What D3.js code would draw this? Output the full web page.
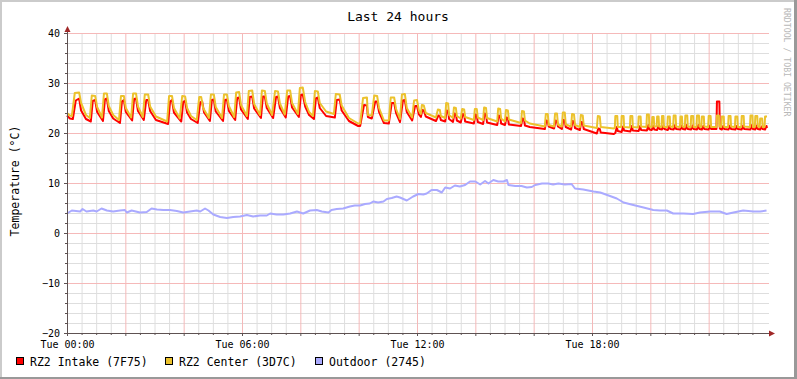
<!DOCTYPE html>
<html><head><meta charset="utf-8">
<script src="https://cdn.jsdelivr.net/npm/d3@7"></script>
<style>html,body{margin:0;padding:0;background:#fff}svg{display:block}</style>
</head><body><svg id="c" width="797" height="379"></svg>
<script>
// ---- DATA (minutes since Tue 00:00, °C) ----
const title = "Last 24 hours";
const yLabel = "Temperature (°C)";
const watermark = "RRDTOOL / TOBI OETIKER";
const seriesNames = ["RZ2 Intake (7F75)", "RZ2 Center (3D7C)", "Outdoor (2745)"];
const seriesColors = ["#ff0000", "#ecc22c", "#aaaaff"];
const xTickLabels = ["Tue 00:00", "Tue 06:00", "Tue 12:00", "Tue 18:00"];
const xTickMinutes = [0, 360, 720, 1080];
const yTicks = [-20, -10, 0, 10, 20, 30, 40];

const intakeData = [[0,23.5],[6,22.9],[12,22.8],[18,26.5],[25,26.9],[29,24.5],[39,22.8],[49,22.3],[53,26.4],[58,26.6],[62,24.2],[74,22.4],[78,26.7],[82,26.9],[86,24.4],[95,22.9],[109,22.0],[113,26.3],[117,26.6],[121,24.2],[134,22.5],[138,26.8],[142,26.9],[146,24.4],[158,22.6],[163,26.6],[167,26.6],[171,24.4],[183,22.6],[208,21.8],[212,26.3],[216,26.6],[220,24.1],[235,22.3],[239,26.2],[243,26.4],[247,24.1],[255,22.8],[269,22.0],[274,26.1],[278,26.3],[282,24.1],[294,22.4],[298,26.6],[302,26.7],[306,24.3],[321,22.4],[325,26.6],[329,26.7],[333,24.4],[346,22.6],[350,27.0],[354,27.1],[358,24.7],[372,22.8],[376,27.2],[381,27.3],[385,24.9],[399,23.0],[403,27.3],[407,27.3],[411,25.0],[424,23.0],[430,27.2],[434,27.3],[438,25.0],[450,23.1],[455,27.3],[459,27.4],[463,25.1],[477,23.2],[481,27.6],[485,27.7],[490,25.3],[498,23.6],[508,22.8],[512,26.9],[516,27.1],[520,25.0],[533,23.4],[551,23.1],[555,26.6],[561,26.7],[565,24.5],[580,22.4],[599,21.4],
[603,21.4],[611,25.6],[617,25.5],[619,23.2],[627,22.9],[634,26.3],[638,26.3],[642,24.2],[652,22.0],[662,21.9],[668,26.0],[673,26.0],[677,24.0],[685,22.2],[691,26.5],[695,26.6],[699,24.2],[710,22.5],[716,25.4],[720,25.4],[724,23.7],[728,23.2],[731,24.6],[734,24.5],[738,23.3],[759,22.4],[764,23.5],[767,23.4],[769,22.6],[778,22.3],[781,24.5],[784,24.4],[786,22.8],[794,22.2],[797,23.9],[800,23.8],[802,22.5],[810,22.1],[814,23.8],[817,23.7],[819,22.3],[837,21.9],[840,23.7],[843,23.6],[845,22.2],[856,21.8],[859,23.9],[862,23.8],[864,22.1],[885,21.6],[888,23.5],[891,23.4],[893,21.9],[901,21.6],[904,23.1],[907,23.0],[909,21.7],[934,21.4],[937,22.9],[940,22.8],[942,21.5],[952,21.2],[983,20.8],[986,22.5],[989,22.4],[991,21.3],[1002,20.9],[1005,22.5],[1008,22.4],[1010,21.3],[1018,20.8],[1021,22.6],[1024,22.5],[1026,21.2],[1037,20.7],[1040,22.4],[1043,22.3],[1045,21.0],[1055,20.6],[1058,22.2],[1061,22.1],[1063,20.8],[1090,19.9],[1093,20.9],[1096,20.8],[1098,20.1],[1125,19.8],
[1128,20.0],[1131,21.2],[1133,20.4],[1141,20.2],[1144,21.3],[1146,20.5],[1159,20.3],[1162,21.4],[1164,20.5],[1176,20.4],[1179,21.4],[1181,20.6],[1193,20.5],[1196,21.6],[1198,20.7],[1203,20.6],[1206,21.4],[1208,20.7],[1214,20.6],[1217,21.5],[1219,20.8],[1224,20.7],[1227,21.5],[1229,20.8],[1236,20.6],[1239,21.4],[1241,20.8],[1248,20.7],[1251,21.6],[1253,20.8],[1262,20.7],[1265,21.5],[1267,20.8],[1272,20.7],[1275,21.6],[1277,20.8],[1284,20.7],[1287,21.5],[1289,20.8],[1296,20.7],[1299,21.6],[1301,20.8],[1306,20.7],[1309,21.4],[1311,20.8],[1320,20.7],[1323,21.5],[1325,20.8],[1336,20.8],[1337,26.3],[1342,26.3],[1343,20.9],[1347,20.7],[1350,21.4],[1352,20.8],[1361,20.7],[1364,21.5],[1366,20.8],[1375,20.7],[1378,21.4],[1380,20.8],[1388,20.7],[1391,21.5],[1393,20.8],[1406,20.7],[1409,21.6],[1411,20.8],[1416,20.7],[1419,21.5],[1421,20.8],[1426,20.7],[1429,21.3],[1431,20.8],[1436,20.7],[1439,21.4],[1440,21.0]];

const centerData = [[0,24.0],[6,23.5],[10,23.4],[16,28.0],[25,28.1],[29,26.0],[39,23.6],[47,23.0],[51,27.5],[58,27.4],[62,25.2],[72,23.1],[76,27.9],[82,27.9],[86,25.4],[95,23.6],[107,22.6],[111,27.4],[117,27.4],[121,25.0],[132,23.1],[136,27.9],[142,27.9],[146,25.3],[156,23.2],[160,27.7],[167,27.7],[171,25.3],[183,23.3],[206,22.3],[210,27.4],[216,27.4],[220,25.0],[232,22.9],[237,27.4],[243,27.3],[247,25.0],[255,23.4],[267,22.6],[272,27.2],[276,27.2],[280,25.0],[292,23.0],[296,27.7],[302,27.7],[306,25.2],[319,23.0],[323,27.7],[329,27.7],[333,25.4],[344,23.2],[348,28.1],[354,28.2],[358,25.6],[370,23.4],[374,28.4],[381,28.5],[385,25.8],[397,23.6],[401,28.5],[407,28.4],[411,25.9],[422,23.6],[428,28.4],[434,28.3],[438,25.9],[448,23.7],[453,28.5],[459,28.5],[463,26.0],[475,23.8],[479,29.0],[485,29.1],[490,26.2],[498,24.2],[506,23.4],[510,28.4],[516,28.3],[520,26.0],[533,24.3],[549,23.8],[553,27.8],[561,27.7],[565,25.5],[580,23.0],[599,21.9],
[603,21.9],[609,27.0],[617,27.1],[619,23.6],[627,23.5],[632,27.5],[638,27.4],[642,25.0],[652,22.5],[662,22.5],[666,27.1],[673,27.1],[677,24.8],[685,22.8],[689,27.7],[695,27.8],[699,25.0],[710,23.1],[714,26.5],[720,26.6],[724,24.5],[728,23.8],[730,25.6],[734,25.5],[738,24.0],[759,23.1],[763,24.7],[767,24.6],[769,23.4],[778,23.0],[780,26.0],[784,25.9],[786,23.6],[794,23.0],[796,25.1],[800,25.0],[802,23.4],[810,22.9],[813,24.8],[817,24.7],[819,23.2],[837,22.6],[839,24.8],[843,24.8],[845,23.1],[856,22.6],[858,25.1],[862,25.0],[864,23.0],[885,22.3],[887,24.9],[891,24.8],[893,22.9],[901,22.3],[903,24.6],[907,24.5],[909,22.7],[934,22.0],[936,24.4],[940,24.3],[942,22.5],[952,21.9],[983,21.3],[985,23.8],[989,23.8],[991,21.6],[1002,21.3],[1004,23.9],[1008,23.9],[1010,21.7],[1018,21.3],[1020,24.1],[1024,24.1],[1026,21.7],[1037,21.3],[1039,23.8],[1043,23.7],[1045,21.6],[1055,21.2],[1057,23.6],[1061,23.5],[1063,21.5],[1090,21.0],[1092,23.4],[1096,23.3],[1098,21.2],[1125,20.9],
[1127,21.1],[1128,23.4],[1132,23.4],[1133,21.2],[1140,21.2],[1141,23.4],[1145,23.4],[1146,21.2],[1158,21.1],[1159,23.4],[1163,23.4],[1164,21.2],[1175,21.1],[1176,23.3],[1180,23.3],[1181,21.3],[1192,21.2],[1193,23.7],[1197,23.7],[1198,21.3],[1203,21.2],[1204,23.2],[1207,23.2],[1208,21.3],[1213,21.3],[1214,23.3],[1217,23.3],[1218,21.3],[1223,21.2],[1224,23.4],[1227,23.4],[1228,21.2],[1235,21.2],[1236,23.3],[1240,23.3],[1241,21.3],[1247,21.2],[1248,23.5],[1252,23.5],[1253,21.3],[1261,21.2],[1262,23.3],[1265,23.3],[1266,21.3],[1271,21.2],[1272,23.5],[1276,23.5],[1277,21.3],[1283,21.2],[1284,23.4],[1288,23.4],[1289,21.2],[1295,21.2],[1296,23.5],[1300,23.5],[1301,21.3],[1305,21.2],[1306,23.3],[1310,23.3],[1311,21.3],[1319,21.2],[1320,23.4],[1324,23.4],[1325,21.2],[1336,21.2],[1337,23.5],[1341,23.5],[1342,21.3],[1346,21.2],[1347,23.3],[1351,23.3],[1352,21.2],[1360,21.2],[1361,23.4],[1365,23.4],[1366,21.3],[1374,21.2],[1375,23.3],[1379,23.3],[1380,21.2],[1387,21.2],[1388,23.4],[1392,23.4],[1393,21.3],[1405,21.2],[1406,23.5],[1410,23.5],[1411,21.2],[1415,21.2],[1416,23.4],[1420,23.4],[1421,21.3],[1425,21.2],[1426,22.9],[1430,22.9],[1431,21.2],[1435,21.2],[1436,23.3],[1440,23.3]];

const outdoorData = [[0,3.9],[10,4.5],[27,4.3],[32,4.8],[40,4.3],[54,4.5],[61,4.3],[71,4.9],[82,4.5],[95,4.3],[109,4.5],[119,4.6],[123,4.1],[133,4.5],[150,4.1],[164,4.2],[174,4.9],[185,4.7],[198,4.6],[212,4.6],[226,4.4],[239,4.1],[253,4.3],[267,4.5],[274,4.3],[284,4.9],[291,4.5],[301,3.7],[315,3.2],[329,3.0],[342,3.2],[356,3.3],[370,3.6],[383,3.3],[397,3.5],[411,3.5],[418,3.9],[431,3.7],[445,3.7],[459,3.9],[473,4.3],[486,3.9],[500,4.5],[514,4.6],[524,4.3],[538,4.1],[544,4.6],[555,4.8],[568,4.9],[582,5.3],[592,5.5],[603,5.5],[613,5.8],[623,5.9],[630,6.3],[640,6.1],[651,6.3],[658,6.8],[668,7.0],[678,7.3],[685,7.1],[699,6.5],[712,7.3],[723,7.8],[733,7.7],[740,7.9],[750,8.6],[761,8.6],[771,8.1],[778,9.1],[788,8.9],[798,9.5],[808,9.3],[819,9.6],[829,10.3],[840,10.3],[850,9.7],[860,10.4],[867,9.9],[877,10.6],[887,10.3],[898,10.3],[905,10.6],[908,9.6],[922,9.4],[935,9.4],[946,9.1],[956,9.2],[963,9.6],[977,9.9],[990,9.9],[1000,9.7],[1011,9.9],[1024,9.7],[1038,9.8],[1045,8.9],[1062,8.7],[1083,8.3],[1097,8.1],[1117,7.4],[1131,6.9],[1145,6.1],[1165,5.6],[1186,5.1],[1206,4.6],[1220,4.5],[1234,4.5],[1247,3.9],[1268,3.9],[1288,3.8],[1302,4.1],[1323,4.3],[1343,4.3],[1357,3.8],[1371,4.1],[1391,4.5],[1412,4.3],[1426,4.3],[1439,4.5]];

// ---- CHART ----
const W = 797, H = 379;
const L = 67, R = 767, T = 33, B = 333;
const FONT = "'DejaVu Sans Mono', monospace";
const base = new Date(2023, 0, 3, 0, 0, 0); // a Tuesday
const t = m => new Date(base.getTime() + m * 60000);

const x = d3.scaleTime().domain([t(0), t(1440)]).range([L, R]);
const y = d3.scaleLinear().domain([-20, 40]).range([B, T]);

const svg = d3.select("#c");
svg.append("rect").attr("width", W).attr("height", H).attr("fill", "#ffffff");
// frame shading
svg.append("rect").attr("x",0).attr("y",0).attr("width",W).attr("height",2).attr("fill","#cbcbcb");
svg.append("rect").attr("x",0).attr("y",0).attr("width",2).attr("height",H).attr("fill","#cbcbcb");
svg.append("rect").attr("x",0).attr("y",H-2).attr("width",W).attr("height",2).attr("fill","#999999");
svg.append("rect").attr("x",W-3).attr("y",0).attr("width",3).attr("height",H).attr("fill","#999999");

const xMinor = d3.range(30, 1440, 30).filter(m => m % 120 !== 0);
const xMajor = d3.range(120, 1440, 120);
const yMinor = d3.range(-18, 41, 2).filter(v => v % 10 !== 0);
const yMajor = yTicks.filter(v => v !== -20);

function styleGrid(g, color) {
  g.select(".domain").remove();
  g.selectAll("line").attr("stroke", color).attr("stroke-width", 1);
}
// minor grid
svg.append("g").attr("transform", `translate(0,${B})`)
  .call(d3.axisBottom(x).tickValues(xMinor.map(t)).tickSize(-(B - T)).tickFormat(""))
  .call(g => styleGrid(g, "#dedede"));
svg.append("g").attr("transform", `translate(${L},0)`)
  .call(d3.axisLeft(y).tickValues(yMinor).tickSize(-(R - L + 2)).tickFormat(""))
  .call(g => styleGrid(g, "#dedede"));
// major grid
svg.append("g").attr("transform", `translate(0,${B})`)
  .call(d3.axisBottom(x).tickValues(xMajor.map(t)).tickSize(-(B - T)).tickFormat(""))
  .call(g => styleGrid(g, "#f5b9b9"));
svg.append("g").attr("transform", `translate(${L},0)`)
  .call(d3.axisLeft(y).tickValues(yMajor).tickSize(-(R - L + 2)).tickFormat(""))
  .call(g => styleGrid(g, "#f5b9b9"));

// data lines
const line = d3.line().x(d => x(t(d[0]))).y(d => y(d[1]));
[intakeData, centerData, outdoorData].forEach((data, i) => {
  svg.append("path").datum(data).attr("d", line)
    .attr("fill", "none").attr("stroke", seriesColors[i])
    .attr("stroke-width", 2).attr("stroke-linejoin", "round");
});

// axes lines and ticks
const AX = "#5e5252";
svg.append("g").attr("transform", `translate(0,${B})`)
  .call(d3.axisBottom(x).tickValues(xMinor.map(t)).tickSize(2).tickFormat(""))
  .call(g => { g.select(".domain").remove(); g.selectAll("line").attr("stroke", AX); });
svg.append("g").attr("transform", `translate(0,${B})`)
  .call(d3.axisBottom(x).tickValues([0].concat(xMajor).map(t)).tickSize(3).tickFormat(""))
  .call(g => { g.select(".domain").remove(); g.selectAll("line").attr("stroke", AX); });
svg.append("g").attr("transform", `translate(${L},0)`)
  .call(d3.axisLeft(y).tickValues(yMinor).tickSize(2).tickFormat(""))
  .call(g => { g.select(".domain").remove(); g.selectAll("line").attr("stroke", AX); });
svg.append("g").attr("transform", `translate(${L},0)`)
  .call(d3.axisLeft(y).tickValues(yTicks).tickSize(3).tickFormat(""))
  .call(g => { g.select(".domain").remove(); g.selectAll("line").attr("stroke", AX); });

svg.append("line").attr("x1", L - 3).attr("x2", R + 3).attr("y1", B + 0.5).attr("y2", B + 0.5)
  .attr("stroke", AX).attr("stroke-width", 1);
svg.append("line").attr("x1", L + 0.5).attr("x2", L + 0.5).attr("y1", B + 3).attr("y2", T - 4)
  .attr("stroke", AX).attr("stroke-width", 1);
const ARW = "#a02828";
svg.append("path").attr("d", `M${R + 8},${B + 0.5} L${R + 2},${B - 2.5} L${R + 2},${B + 3.5} Z`).attr("fill", ARW);
svg.append("path").attr("d", `M${L + 0.5},${T - 7} L${L - 2.5},${T - 1} L${L + 3.5},${T - 1} Z`).attr("fill", ARW);

// tick labels
svg.append("g").attr("transform", `translate(0,${B})`)
  .call(d3.axisBottom(x).tickValues(xTickMinutes.map(t)).tickSize(0).tickPadding(8)
    .tickFormat((d, i) => xTickLabels[i]))
  .call(g => { g.select(".domain").remove();
    g.selectAll("text").attr("font-family", FONT).attr("font-size", 10).attr("fill", "#000"); });
svg.append("g").attr("transform", `translate(${L},0)`)
  .call(d3.axisLeft(y).tickValues(yTicks).tickSize(0).tickPadding(7).tickFormat(d3.format("d")))
  .call(g => { g.select(".domain").remove();
    g.selectAll("text").attr("font-family", FONT).attr("font-size", 10).attr("fill", "#000"); });

// title
svg.append("text").attr("x", 398).attr("y", 21).attr("text-anchor", "middle")
  .attr("font-family", FONT).attr("font-size", 13).attr("fill", "#000").text(title);
// y label
svg.append("text").attr("transform", "translate(19,181) rotate(-90)").attr("text-anchor", "middle")
  .attr("font-family", FONT).attr("font-size", 11.5).attr("fill", "#000").text(yLabel);
// watermark
svg.append("text").attr("transform", "translate(783.5,8) rotate(90)").attr("text-anchor", "start")
  .attr("font-family", FONT).attr("font-size", 8.2).attr("fill", "#b8b8b8").text(watermark);

// legend
const legendX = [16, 165, 315];
seriesNames.forEach((name, i) => {
  svg.append("rect").attr("x", legendX[i] + 0.5).attr("y", 357.5).attr("width", 7).attr("height", 7)
    .attr("fill", seriesColors[i]).attr("stroke", "#000").attr("stroke-width", 1);
  svg.append("text").attr("x", legendX[i] + 14).attr("y", 365.5)
    .attr("font-family", FONT).attr("font-size", 11.5).attr("fill", "#000").text(name);
});
</script></body></html>
